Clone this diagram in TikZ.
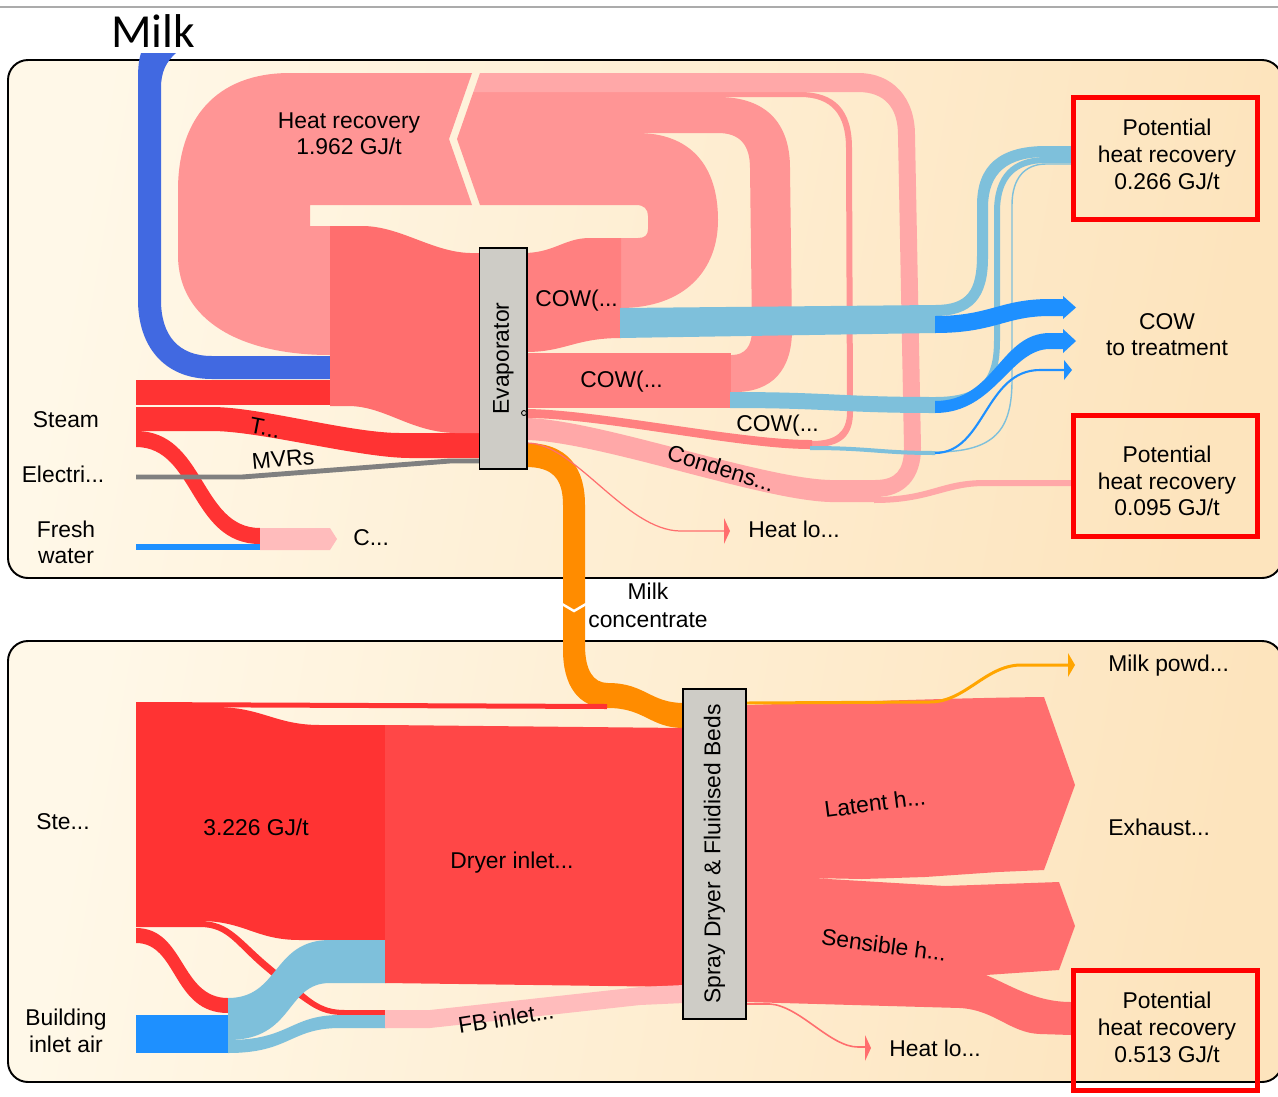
\documentclass[tikz,border=0pt]{standalone}
\usepackage{fontspec}
\setmainfont{Liberation Sans}
\newfontfamily\milkfont{Carlito}
\definecolor{panelL}{HTML}{FFF8E8}
\definecolor{panelR}{HTML}{FDE4BD}
\definecolor{hrpink}{HTML}{FF9595}
\definecolor{ltpink}{HTML}{FFA8A8}
\definecolor{cowred}{HTML}{FF8080}
\definecolor{evred}{HTML}{FF6E6E}
\definecolor{steamred}{HTML}{FF3333}
\definecolor{dryred}{HTML}{FF4747}
\definecolor{skyb}{HTML}{7EC0DB}
\definecolor{dodger}{HTML}{1E90FF}
\definecolor{royal}{HTML}{4169E1}
\definecolor{milkor}{HTML}{FF8C00}
\definecolor{powder}{HTML}{FFA500}
\definecolor{palepink}{HTML}{FFBCBC}
\definecolor{boxgray}{HTML}{CECCC6}
\begin{document}
\begin{tikzpicture}[x=0.02cm,y=-0.02cm,
  lbl/.style={font=\fontsize{13}{15}\selectfont, inner sep=0pt},
  proc/.style={draw=black, fill=boxgray, line width=0.85pt, inner sep=0pt, font=\fontsize{13}{15}\selectfont},
  potbox/.style={draw=red, line width=2.85pt, minimum width=3.68cm, inner sep=0pt},
  panel/.style={draw=black, line width=1.1pt, rounded corners=0.4cm, left color=panelL, right color=panelR, shading angle=80},
  losstip/.style={fill=evred}]
\useasboundingbox (0,0) rectangle (1278,1096);
\fill[white] (0,0) rectangle (1278,1096);
\draw[black!33, line width=1pt] (0,7) -- (1278,7);

% ---------- panels ----------
\draw[panel] (8,60) rectangle (1282,578);
\draw[panel] (8,641) rectangle (1282,1082);

% ---------- evaporator stage ----------
% heat recovery return into the evaporator feed
\fill[hrpink] (472,73) -- (290,73) .. controls (215,73) and (178,120) .. (178,190) -- (178,255)
  .. controls (178,320) and (240,355) .. (330,355) -- (330,226) -- (310,226) -- (310,205) -- (472,205) -- (449,139) -- cycle;
% recovery links looping back from the outlets
\fill[hrpink] (459.1,133) -- (457,139) -- (480,205) -- (636,205) .. controls (644,205) and (648,209) .. (648,216)
  -- (648,229) .. controls (648,235) and (645,238) .. (638,238) -- (620,238) -- (620,308)
  .. controls (685,308) and (718,270) .. (718,220) .. controls (718,165) and (690,133) .. (637,133) -- cycle;
\fill[hrpink] (471.6,97) -- (459.1,133) -- (718,133) .. controls (740,133) and (750,145) .. (750,168)
  -- (752,330) .. controls (752,346) and (745,355) .. (732,355) -- (730,355) -- (730,392) -- (735,392)
  .. controls (772,392) and (792,370) .. (792,330) -- (790,168) .. controls (790,122) and (765,97) .. (718,97) -- cycle;
\fill[hrpink] (473.4,92) -- (471.6,97) -- (800,97) .. controls (832,97) and (846,115) .. (846,148)
  -- (847,412) .. controls (847,432) and (836,441) .. (812,441) -- (810,441) -- (810,447) -- (814,447)
  .. controls (842,447) and (853,435) .. (853,412) -- (852,148) .. controls (852,110) and (835,92) .. (800,92) -- cycle;
\fill[ltpink] (480,73) -- (473.4,92) -- (858,92) .. controls (885,92) and (898,108) .. (898,135)
  -- (904,448) .. controls (904,470) and (896,480) .. (875,480) -- (875,497)
  .. controls (905,497) and (921,478) .. (921,448) -- (915,135) .. controls (915,98) and (893,73) .. (858,73) -- cycle;
% condensate
\fill[ltpink] (527,418) .. controls (600,420) and (760,478) .. (830,480) -- (876,480) -- (876,502) -- (830,502)
  .. controls (760,500) and (600,442) .. (527,440) -- cycle;
\fill[ltpink] (874,497) .. controls (930,497) and (940,480) .. (985,480) -- (1071,480) -- (1071,486) -- (985,486)
  .. controls (945,486) and (930,503) .. (874,503) -- cycle;

% milk feed
\fill[royal] (141,53) -- (176,53) .. controls (166,62) and (161,72) .. (161,88) -- (161,300)
  .. controls (161,335) and (178,356) .. (212,356) -- (330,356) -- (330,379) -- (212,379)
  .. controls (163,379) and (138,345) .. (138,300) -- (138,80) .. controls (138,66) and (139,59) .. (141,53) -- cycle;

% steam
\fill[steamred] (136,380) rectangle (330,405);
\fill[steamred] (136,407) -- (212,407) .. controls (260,407) and (350,433) .. (400,433) -- (481,433) -- (481,458)
  -- (410,458) .. controls (360,458) and (260,431) .. (212,431) -- (136,431) -- cycle;
\fill[steamred] (136,431) .. controls (205,431) and (200,528) .. (260,528) -- (260,544)
  .. controls (190,544) and (195,447) .. (136,447) -- cycle;
\fill[dodger] (136,544) rectangle (260,550);
\fill[palepink] (260,528) -- (330,528) -- (337,539) -- (330,550) -- (260,550) -- cycle;

% electricity to the MVRs
\draw[black!50, line width=2.8pt] (136,477) -- (242,477) -- (450,461) -- (481,461);

% evaporator feed block
\fill[evred] (330,226) -- (362,226) .. controls (400,226) and (432,252) .. (470,253) -- (481,253) -- (481,433)
  -- (455,433) .. controls (410,432) and (385,406) .. (348,406) -- (330,406) -- cycle;

% condensate of whey outlets
\fill[cowred] (526,253) .. controls (555,252) and (565,238) .. (590,238) -- (621,238) -- (621,338)
  .. controls (575,338) and (565,352) .. (526,352) -- cycle;
\fill[cowred] (526,353) rectangle (731,408);
\fill[cowred] (527,409) .. controls (600,410) and (740,440) .. (810,440) -- (812,440) -- (812,449) -- (810,449)
  .. controls (740,449) and (600,418) .. (527,418) -- cycle;

% whey condensate towards treatment
\fill[skyb] (620,308) -- (935,305) -- (935,333) -- (620,338) -- cycle;
\fill[skyb] (935,305) .. controls (968,305) and (977,290) .. (977,255) -- (977,205)
  .. controls (977,165) and (1000,146) .. (1046,146) -- (1071,146) -- (1071,157) -- (1046,157)
  .. controls (1008,157) and (988,172) .. (988,208) -- (988,258) .. controls (988,298) and (972,316) .. (935,316) -- cycle;
\fill[skyb] (730,392) .. controls (830,392) and (840,397) .. (935,397) -- (935,413)
  .. controls (840,413) and (830,408) .. (730,408) -- cycle;
\fill[skyb] (935,397) .. controls (982,397) and (994,378) .. (994,340) -- (994,212)
  .. controls (994,175) and (1012,157) .. (1046,157) -- (1071,157) -- (1071,163) -- (1046,163)
  .. controls (1016,163) and (1000,178) .. (1000,212) -- (1000,340) .. controls (1000,385) and (985,402) .. (935,402) -- cycle;
\fill[skyb] (810,446) .. controls (870,446) and (880,451) .. (935,451) -- (935,455)
  .. controls (880,455) and (870,450) .. (810,450) -- cycle;
\draw[skyb, line width=0.8pt] (935,452) .. controls (995,452) and (1012,430) .. (1012,380) -- (1012,205)
  .. controls (1012,178) and (1025,164) .. (1046,164) -- (1071,164);
\fill[dodger] (935,316) .. controls (990,316) and (1000,299) .. (1050,299) -- (1063,299) -- (1063,296) -- (1076,307.5)
  -- (1063,319) -- (1063,316) -- (1050,316) .. controls (1005,316) and (995,333) .. (935,333) -- cycle;
\fill[dodger] (935,401) .. controls (995,401) and (1000,333) .. (1050,333) -- (1063,333) -- (1063,329) -- (1076,341)
  -- (1063,353) -- (1063,349) -- (1050,349) .. controls (1010,349) and (995,413) .. (935,413) -- cycle;
\draw[dodger, line width=1.2pt] (935,453) .. controls (985,453) and (985,370) .. (1040,370) -- (1065,370);
\fill[dodger] (1064,360) -- (1072,370) -- (1064,380) -- cycle;

% milk concentrate to the dryer
\fill[milkor] (526,443) .. controls (568,443) and (585,468) .. (585,505) -- (585,645)
  .. controls (585,670) and (593,683) .. (608,683) .. controls (645,683) and (650,703) .. (684,703) -- (684,728)
  .. controls (650,728) and (645,708) .. (608,708) .. controls (578,708) and (563,685) .. (563,650) -- (563,505)
  .. controls (563,478) and (552,467) .. (526,467) -- cycle;
\draw[white, line width=1.4pt] (562,604) -- (574,611) -- (586,604);

% evaporator heat loss
\draw[evred, line width=0.7pt] (527,443) .. controls (575,443) and (625,530) .. (680,531) -- (725,531);
\fill[losstip] (724,518) -- (730,531) -- (724,544) -- cycle;

\node[proc, minimum width=4.42cm, minimum height=0.95cm, rotate=90] (evap) at (503.3,358.5) {Evaporator};
\draw[line width=0.5pt] (524,413) circle[radius=2.5];

% ---------- dryer stage ----------
\fill[steamred] (136,702) -- (607,704) -- (607,709) -- (136,707) -- cycle;
\fill[steamred] (136,707) -- (215,707) .. controls (262,707) and (275,725) .. (320,725) -- (386,725) -- (386,940)
  -- (300,940) .. controls (255,940) and (245,921) .. (200,921) -- (136,921) -- cycle;
\fill[steamred] (136,921) -- (200,921) .. controls (230,921) and (240,940) .. (270,965) -- (300,990)
  .. controls (315,1003) and (325,1010) .. (345,1010) -- (386,1010) -- (386,1015) -- (343,1015)
  .. controls (320,1015) and (310,1005) .. (295,995) -- (265,970) .. controls (235,945) and (228,927) .. (200,927) -- (136,927) -- cycle;
\fill[steamred] (136,928) .. controls (185,928) and (180,998) .. (228,998) -- (228,1013)
  .. controls (172,1013) and (178,943) .. (136,943) -- cycle;
\fill[dodger] (136,1015) rectangle (228,1053);
\fill[skyb] (228,998) .. controls (280,998) and (272,940) .. (330,940) -- (386,940) -- (386,983) -- (330,983)
  .. controls (285,983) and (295,1040) .. (228,1040) -- cycle;
\fill[skyb] (228,1040) .. controls (290,1040) and (290,1015) .. (340,1015) -- (386,1015) -- (386,1028) -- (340,1028)
  .. controls (290,1028) and (290,1053) .. (228,1053) -- cycle;
\fill[dryred] (385,725) -- (684,728) -- (684,987) -- (385,983) -- cycle;
\fill[palepink] (385,1010) -- (430,1010) -- (640,987) -- (684,985) -- (684,1003) -- (640,1005) -- (430,1028) -- (385,1028) -- cycle;

% exhaust air and recoverable heat
\fill[evred] (746,705) .. controls (850,702) and (950,698) .. (1044,697) -- (1075,785) -- (1044,870) -- (998,872)
  -- (925,877) -- (862,879) -- (811,878) -- (862,881) -- (945,886) -- (1059,882) -- (1075,926) -- (1059,970)
  -- (986,975) .. controls (1010,985) and (1035,1002) .. (1071,1002) -- (1071,1035) -- (1040,1034)
  .. controls (1010,1033) and (995,1010) .. (960,1008) -- (746,1002) -- cycle;
% milk powder
\draw[powder, line width=1.7pt] (746,703) -- (930,702) .. controls (965,702) and (985,666) .. (1020,665) -- (1069,665);
\fill[powder] (1068,653) -- (1075,665) -- (1068,677) -- cycle;
% dryer heat loss
\draw[evred, line width=0.9pt] (746,1004) -- (770,1004) .. controls (800,1006) and (830,1047) .. (858,1047) -- (866,1047);
\fill[losstip] (865,1035) -- (871,1048) -- (865,1061) -- cycle;

\node[proc, minimum width=6.6cm, minimum height=1.26cm, rotate=90] (dryer) at (714.5,854) {Spray Dryer \& Fluidised Beds};

% ---------- recovery boxes ----------
\node[potbox, minimum height=2.44cm] (pot1) at (1165.5,158.5) {};
\node[potbox, minimum height=2.42cm] (pot2) at (1165.5,476) {};
\node[potbox, minimum height=2.40cm] (pot3) at (1165.5,1030.5) {};

% ---------- labels ----------
\node[anchor=base, inner sep=0pt, font=\milkfont\fontsize{27}{30}\selectfont] (tmilk) at (153,47) {Milk};
\node[lbl, anchor=base] (thr1) at (349,128) {Heat recovery};
\node[lbl, anchor=base] (thr2) at (349,154) {1.962 GJ/t};
\node[lbl, anchor=base] (tp1a) at (1167,135) {Potential};
\node[lbl, anchor=base] (tp1b) at (1167,162) {heat recovery};
\node[lbl, anchor=base] (tp1c) at (1167,189) {0.266 GJ/t};
\node[lbl, anchor=base] (tp2a) at (1167,462) {Potential};
\node[lbl, anchor=base] (tp2b) at (1167,489) {heat recovery};
\node[lbl, anchor=base] (tp2c) at (1167,515) {0.095 GJ/t};
\node[lbl, anchor=base] (tp3a) at (1167,1008) {Potential};
\node[lbl, anchor=base] (tp3b) at (1167,1035) {heat recovery};
\node[lbl, anchor=base] (tp3c) at (1167,1062) {0.513 GJ/t};
\node[lbl, anchor=base] (tcow1) at (1167,329) {COW};
\node[lbl, anchor=base] (tcow2) at (1167,355) {to treatment};
\node[lbl, anchor=base west] (tc1) at (535,306) {COW(...};
\node[lbl, anchor=base west] (tc2) at (580,387) {COW(...};
\node[lbl, anchor=base west] (tc3) at (736,431) {COW(...};
\node[lbl, rotate=-17] (tcond) at (721,468) {Condens...};
\node[lbl, anchor=base west] (tloss1) at (748,537) {Heat lo...};
\node[lbl, anchor=base] (tsteam) at (66,427) {Steam};
\node[lbl, anchor=base] (telec) at (63,482) {Electri...};
\node[lbl, anchor=base] (tfw1) at (66,537) {Fresh};
\node[lbl, anchor=base] (tfw2) at (66,563) {water};
\node[lbl, anchor=base west] (tcc) at (353,545) {C...};
\node[lbl, rotate=-11] (tt) at (265,428) {T...};
\node[lbl, rotate=5] (tmvr) at (283,459) {MVRs};
\node[lbl, anchor=base] (tmc1) at (648,599) {Milk};
\node[lbl, anchor=base] (tmc2) at (648,627) {concentrate};
\node[lbl, anchor=base west] (tpowd) at (1108,671) {Milk powd...};
\node[lbl, anchor=base west] (texh) at (1108,835) {Exhaust...};
\node[lbl, rotate=7.5] (tlat) at (875,803) {Latent h...};
\node[lbl, rotate=-7.5] (tsens) at (884,945) {Sensible h...};
\node[lbl, anchor=base west] (tloss2) at (889,1056) {Heat lo...};
\node[lbl, anchor=base west] (tste) at (36,829) {Ste...};
\node[lbl, anchor=base] (tsteamv) at (256,835) {3.226 GJ/t};
\node[lbl, anchor=base] (tdi) at (512,868) {Dryer inlet...};
\node[lbl, rotate=9] (tfb) at (506,1018) {FB inlet...};
\node[lbl, anchor=base] (tbia1) at (66,1025) {Building};
\node[lbl, anchor=base] (tbia2) at (66,1052) {inlet air};
\end{tikzpicture}
\end{document}
